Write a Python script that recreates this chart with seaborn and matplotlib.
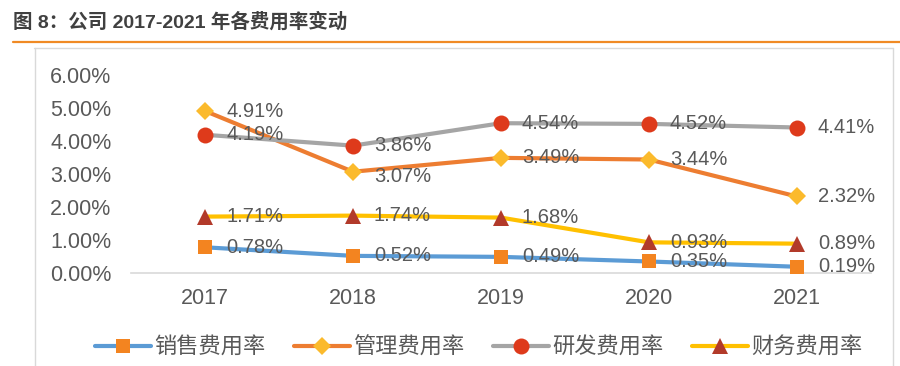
import numpy as np
import pandas as pd
import matplotlib
matplotlib.use('Agg')
import matplotlib.pyplot as plt
from matplotlib.lines import Line2D
import seaborn as sns

# data (percent)
years = [2017, 2018, 2019, 2020, 2021]
series_names = ['销售费用率', '管理费用率', '研发费用率', '财务费用率']
sales_rate = [0.78, 0.52, 0.49, 0.35, 0.19]
admin_rate = [4.91, 3.07, 3.49, 3.44, 2.32]
rd_rate = [4.19, 3.86, 4.54, 4.52, 4.41]
fin_rate = [1.71, 1.74, 1.68, 0.93, 0.89]
y_ticks = [0, 1, 2, 3, 4, 5, 6]

sns.set_style('white')
plt.rcParams['font.family'] = ['Liberation Sans', 'Noto Sans CJK SC', 'DejaVu Sans']

fig = plt.figure(figsize=(9, 3.66), dpi=100)
ax = fig.add_axes([0.1456, 0.254, 0.822, 0.541])

styles = [
    # line color, marker, marker color, marker size
    ('#5B9BD5', 's', '#F38420', 10.5),
    ('#ED7D31', 'D', '#FBBA2C', 9.5),
    ('#A5A5A5', 'o', '#DE3A1B', 11.5),
    ('#FFC000', '^', '#B23A2A', 12),
]
all_vals = [sales_rate, admin_rate, rd_rate, fin_rate]

df = pd.DataFrame({'year': years})
for name, vals in zip(series_names, all_vals):
    df[name] = vals

draw_order = [0, 1, 3, 2]
for i in draw_order:
    lc, mk, mc, ms = styles[i]
    sns.lineplot(data=df, x='year', y=series_names[i], ax=ax, color=lc,
                 linewidth=3, marker=mk, markersize=ms, markerfacecolor=mc,
                 markeredgecolor=mc, markeredgewidth=0, zorder=3 + i)

label_shift = {(1, 1): -5}
for i, vals in enumerate(all_vals):
    for j, (x, v) in enumerate(zip(years, vals)):
        dy = label_shift.get((i, j), 0)
        ax.annotate(f'{v:.2f}%', (x, v), xytext=(21, dy), textcoords='offset pixels',
                    ha='left', va='center', fontsize=14.5, color='#595959', zorder=10)

ax.set_xlim(2016.5, 2021.5)
ax.set_ylim(0, 6)
ax.set_xticks(years)
ax.set_xticklabels([str(y) for y in years])
ax.set_yticks(y_ticks)
ax.set_yticklabels([f'{t:.2f}%' for t in y_ticks])
ax.tick_params(axis='both', length=0, labelsize=15.5, labelcolor='#595959')
ax.tick_params(axis='x', pad=11)
ax.tick_params(axis='y', pad=14)
ax.set_xlabel('')
ax.set_ylabel('')
for s in ['top', 'right', 'left']:
    ax.spines[s].set_visible(False)
ax.spines['bottom'].set_color('#D9D9D9')
ax.spines['bottom'].set_linewidth(1.2)

handles = []
for (lc, mk, mc, ms), name in zip(styles, series_names):
    handles.append(Line2D([0], [0], color=lc, lw=3, marker=mk, markersize=ms,
                          markerfacecolor=mc, markeredgecolor=mc, markeredgewidth=0))
fig.legend(handles, series_names, loc='center', bbox_to_anchor=(0.532, 0.05), ncol=4,
           frameon=False, fontsize=16, handlelength=2.5, columnspacing=1.3,
           handletextpad=0.15, labelcolor='#595959')

# title and frame
fig.text(13 / 900, 1 - 22 / 366, '图 8：公司 2017-2021 年各费用率变动', fontsize=14,
         fontweight='bold', color='#404040', ha='left', va='center')
fig.add_artist(Line2D([13 / 900, 1], [1 - 42 / 366] * 2, color='#F08A24', lw=1.6))
fig.add_artist(Line2D([34 / 900, 893 / 900], [1 - 48 / 366] * 2, color='#D9D9D9', lw=1))
fig.add_artist(Line2D([35 / 900, 35 / 900], [0, 1 - 48 / 366], color='#D9D9D9', lw=1))
fig.add_artist(Line2D([893 / 900, 893 / 900], [0, 1 - 48 / 366], color='#D9D9D9', lw=1))

fig.savefig('out.png', dpi=100)
